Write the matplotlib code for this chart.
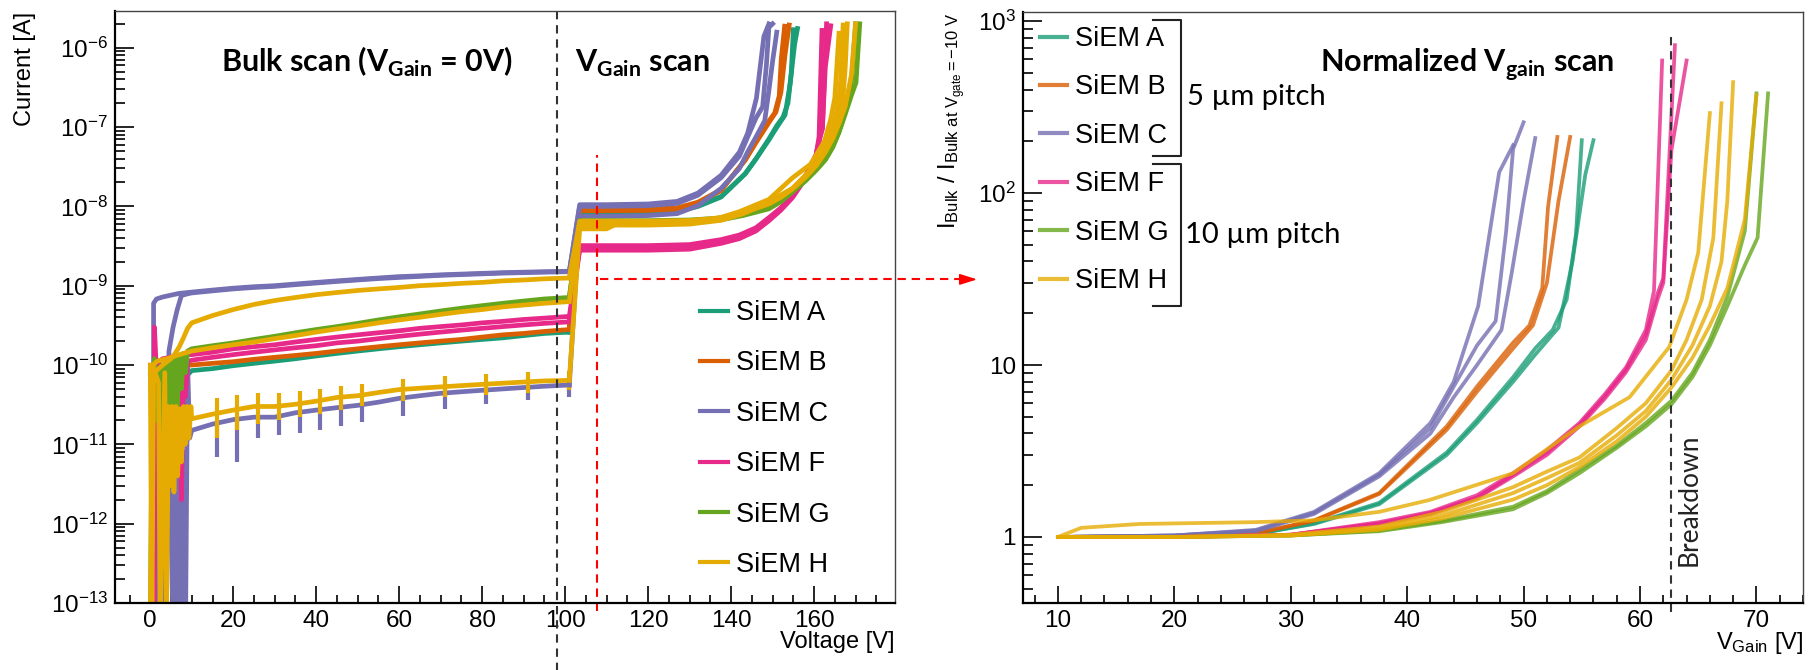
import numpy as np
import matplotlib
matplotlib.use("Agg")
import matplotlib.pyplot as plt
from matplotlib.lines import Line2D
from matplotlib.ticker import LogLocator, MultipleLocator, NullFormatter

plt.rcParams['font.family'] = ['Liberation Sans', 'DejaVu Sans']
plt.rcParams['mathtext.fontset'] = 'custom'
plt.rcParams['mathtext.rm'] = 'Liberation Sans'
plt.rcParams['mathtext.it'] = 'Liberation Sans:italic'
plt.rcParams['mathtext.bf'] = 'Lato:bold'
plt.rcParams['mathtext.sf'] = 'Lato'

devices = ["SiEM A", "SiEM B", "SiEM C", "SiEM F", "SiEM G", "SiEM H"]
colors = ["#1b9e77", "#d95f02", "#7570b3", "#e7298a", "#66a61e", "#e6ab02"]

# ---- bulk scan (V_gain = 0) ----
bulk_v = [10, 15, 20, 25, 30, 35, 40, 45, 50, 55, 60, 65, 70, 75, 80, 85, 90, 95, 101]

bulk_a = [8.5e-11, 9.0e-11, 9.8e-11, 1.05e-10, 1.12e-10, 1.2e-10, 1.3e-10, 1.4e-10, 1.5e-10, 1.6e-10,
          1.7e-10, 1.8e-10, 1.9e-10, 2.0e-10, 2.1e-10, 2.2e-10, 2.35e-10, 2.5e-10, 2.6e-10]
bulk_b = [1.0e-10, 1.05e-10, 1.1e-10, 1.18e-10, 1.25e-10, 1.32e-10, 1.4e-10, 1.5e-10, 1.6e-10, 1.7e-10,
          1.8e-10, 1.9e-10, 2.0e-10, 2.1e-10, 2.25e-10, 2.4e-10, 2.5e-10, 2.65e-10, 2.8e-10]
bulk_c_hi = [8.3e-10, 8.8e-10, 9.3e-10, 9.7e-10, 1.0e-9, 1.05e-9, 1.1e-9, 1.15e-9, 1.2e-9, 1.25e-9,
             1.3e-9, 1.33e-9, 1.37e-9, 1.4e-9, 1.43e-9, 1.46e-9, 1.48e-9, 1.5e-9, 1.52e-9]
bulk_c_hi2 = [8.1e-10, 8.6e-10, 9.1e-10, 9.5e-10, 9.8e-10, 1.03e-9, 1.08e-9, 1.13e-9, 1.18e-9, 1.23e-9,
              1.27e-9, 1.31e-9, 1.35e-9, 1.38e-9, 1.41e-9, 1.44e-9, 1.46e-9, 1.48e-9, 1.5e-9]
bulk_c_lo = [1.5e-11, 1.8e-11, 2.05e-11, 2.2e-11, 2.2e-11, 2.5e-11, 2.7e-11, 2.9e-11, 3.1e-11, 3.4e-11,
             3.8e-11, 4.1e-11, 4.4e-11, 4.6e-11, 4.8e-11, 5.0e-11, 5.2e-11, 5.4e-11, 5.6e-11]
bulk_f1 = [1.15e-10, 1.25e-10, 1.35e-10, 1.45e-10, 1.55e-10, 1.65e-10, 1.75e-10, 1.9e-10, 2.0e-10, 2.15e-10,
           2.3e-10, 2.45e-10, 2.6e-10, 2.75e-10, 2.9e-10, 3.05e-10, 3.2e-10, 3.35e-10, 3.5e-10]
bulk_f2 = [1.35e-10, 1.45e-10, 1.6e-10, 1.7e-10, 1.8e-10, 1.95e-10, 2.1e-10, 2.25e-10, 2.4e-10, 2.55e-10,
           2.7e-10, 2.9e-10, 3.05e-10, 3.2e-10, 3.4e-10, 3.55e-10, 3.75e-10, 3.9e-10, 4.1e-10]
bulk_g = [1.6e-10, 1.75e-10, 1.9e-10, 2.1e-10, 2.3e-10, 2.55e-10, 2.8e-10, 3.05e-10, 3.35e-10, 3.7e-10,
          4.05e-10, 4.4e-10, 4.8e-10, 5.2e-10, 5.6e-10, 6.0e-10, 6.4e-10, 6.8e-10, 7.1e-10]
bulk_h_hi = [3.4e-10, 4.2e-10, 5.0e-10, 5.8e-10, 6.5e-10, 7.1e-10, 7.7e-10, 8.2e-10, 8.7e-10, 9.1e-10,
             9.5e-10, 1.0e-9, 1.03e-9, 1.07e-9, 1.1e-9, 1.15e-9, 1.18e-9, 1.22e-9, 1.25e-9]
bulk_h_mid = [1.5e-10, 1.65e-10, 1.8e-10, 1.95e-10, 2.15e-10, 2.35e-10, 2.6e-10, 2.85e-10, 3.1e-10, 3.4e-10,
              3.7e-10, 4.0e-10, 4.35e-10, 4.7e-10, 5.0e-10, 5.4e-10, 5.7e-10, 6.0e-10, 6.3e-10]
bulk_h_lo = [2.1e-11, 2.4e-11, 2.7e-11, 3.0e-11, 3.0e-11, 3.2e-11, 3.5e-11, 3.9e-11, 4.1e-11, 4.5e-11,
             4.9e-11, 5.1e-11, 5.3e-11, 5.5e-11, 5.7e-11, 5.9e-11, 6.1e-11, 6.3e-11, 6.4e-11]

# noisy start of each bulk curve (0-10 V), values below 1e-13 fall off the plot
low_v_a = [0.5, 1, 1.5, 2, 2.5, 3, 3.5, 4, 4.5, 5, 6, 7, 8, 9]
low_i_a = [5e-14, 4e-11, 9e-11, 3e-11, 1e-10, 4e-11, 9e-11, 3.5e-11, 8e-11, 5e-11, 7e-11, 6e-11, 8e-11, 7.5e-11]
low_v_b = [0.3, 0.6, 1, 2, 3, 5, 7, 9]
low_i_b = [5e-14, 9e-11, 6e-11, 8e-11, 7e-11, 9e-11, 9.5e-11, 1e-10]
low_v_c_hi = [0.8, 0.8, 1.5, 3, 5, 7]
low_i_c_hi = [5e-14, 6e-10, 6.8e-10, 7.2e-10, 7.6e-10, 8e-10]
low_v_c_hi2 = [3.5, 4.5, 5.5, 6.5, 7.5, 9]
low_i_c_hi2 = [5e-14, 1.5e-10, 3e-10, 5e-10, 7.5e-10, 7.9e-10]
low_v_c_lo = [0.5, 1, 1.5, 2.5, 3.5, 4.5, 5.5, 6, 6.5, 7, 7.5, 8, 8.5, 9, 9.5]
low_i_c_lo = [5e-14, 3e-11, 5e-14, 2e-11, 5e-14, 1.5e-11, 5e-14, 1e-11, 5e-14, 1.2e-11, 5e-14, 8e-12, 5e-14,
              1e-10, 1.2e-11]
low_v_f1 = [0.5, 1, 1, 1.5, 2, 3, 4, 5, 6, 7, 7.5, 8, 8.5, 9]
low_i_f1 = [5e-14, 5e-14, 3e-10, 8e-11, 1.2e-11, 9e-11, 6e-11, 1e-10, 8e-11, 1e-10, 2e-12, 1.1e-10, 4e-11, 1.1e-10]
low_v_f2 = [0.3, 1.2, 2, 3, 5, 7, 9]
low_i_f2 = [5e-14, 1e-10, 1.1e-10, 1.2e-10, 1.25e-10, 1.3e-10, 1.35e-10]
low_v_g = [0, 0.5, 1, 1.5, 2, 2.5, 3, 3.5, 4, 4.5, 5, 5.5, 6, 6.5, 7, 7.5, 8, 8.5, 9, 9.5]
low_i_g = [5e-14, 4e-11, 1.2e-10, 2e-11, 9e-11, 1.5e-11, 1e-10, 2.2e-11, 1.1e-10, 2e-11, 1.2e-10, 2.5e-11,
           1.3e-10, 3e-11, 1.3e-10, 5e-11, 1.4e-10, 8e-11, 1.5e-10, 1.55e-10]
low_v_h_hi = [0, 0.5, 1, 2, 3, 4, 5, 6, 7, 8, 9]
low_i_h_hi = [5e-14, 1e-10, 8e-11, 9e-11, 1.0e-10, 1.1e-10, 1.2e-10, 1.4e-10, 1.7e-10, 2.2e-10, 2.9e-10]
low_v_h_mid = [0.2, 0.7, 1.5, 2.5, 4, 6, 8]
low_i_h_mid = [5e-14, 1e-10, 1.1e-10, 1.15e-10, 1.2e-10, 1.3e-10, 1.4e-10]
low_v_h_lo = [0, 0.4, 0.8, 2, 2.4, 3.5, 3.9, 4.4, 4.8, 5.3, 5.7, 6.2, 6.6, 7.1, 7.5, 8, 8.4, 8.9, 9.3, 9.8]
low_i_h_lo = [1e-10, 5e-14, 9e-11, 6e-11, 5e-14, 8e-11, 5e-14, 3e-11, 3e-12, 3e-11, 2.5e-12, 3e-11, 4e-12,
              2.8e-11, 6e-12, 3e-11, 1e-11, 3e-11, 1.2e-11, 3e-11]

# read-out glitches on the two lowest curves
spike_v = [16, 21, 26, 31, 36, 41, 46, 51, 61, 71, 81, 91, 101]
h_lo_spike_lo = [1.2e-11, 1.5e-11, 1.8e-11, 2.0e-11, 2.2e-11, 2.4e-11, 2.7e-11, 3.0e-11, 3.5e-11, 3.9e-11,
                 4.2e-11, 4.5e-11, 4.8e-11]
h_lo_spike_hi = [3.8e-11, 4.2e-11, 4.4e-11, 4.4e-11, 4.7e-11, 5.0e-11, 5.4e-11, 5.8e-11, 6.6e-11, 7.2e-11,
                 7.7e-11, 8.2e-11, 8.4e-11]
c_lo_spike_lo = [7e-12, 6e-12, 1.2e-11, 1.3e-11, 1.4e-11, 1.5e-11, 1.7e-11, 1.9e-11, 2.3e-11, 2.8e-11,
                 3.2e-11, 3.6e-11, 4.0e-11]
c_lo_spike_hi = [1.9e-11, 2.2e-11, 2.3e-11, 2.3e-11, 2.6e-11, 2.8e-11, 3.0e-11, 3.2e-11, 3.9e-11, 4.5e-11,
                 4.9e-11, 5.3e-11, 5.7e-11]

# ---- V_gain scan, normalised to the bulk current at V_gain = 10 V ----
a1_v = [10, 20, 27, 32, 37.6, 43.4, 46, 49.1, 51, 52.5, 53.7, 54.5, 55]
a1_r = [1, 1.01, 1.04, 1.2, 1.58, 3.1, 4.8, 8.5, 12.5, 16, 24, 58, 203]
a2_v = [10, 20, 27, 32, 37.6, 43.4, 46, 49.1, 51, 53, 54.2, 55.3, 56]
a2_r = [1, 1.01, 1.04, 1.19, 1.55, 3.0, 4.6, 8, 11.5, 16.5, 40, 128, 203]
b1_v = [10, 20, 27, 32, 37.6, 43.4, 46, 49.1, 50.5, 51.6, 52.1, 52.9]
b1_r = [1, 1.01, 1.05, 1.25, 1.8, 4.4, 7.5, 13.5, 17, 28, 83, 212]
b2_v = [10, 20, 27, 32, 37.6, 43.4, 46, 49.1, 50.8, 52, 53, 54]
b2_r = [1, 1.01, 1.05, 1.24, 1.78, 4.2, 7, 12.5, 17, 30, 90, 212]
c1_v = [10, 20, 27, 32, 37.6, 42, 44, 46.1, 47.9, 49.1]
c1_r = [1, 1.02, 1.1, 1.4, 2.35, 4.6, 8, 22, 132, 190]
c2_v = [10, 20, 27, 32, 37.6, 42, 44, 46, 47.6, 48.5, 49.1, 50.0]
c2_r = [1, 1.02, 1.09, 1.38, 2.3, 4.3, 7.5, 13, 18, 60, 180, 258]
c3_v = [10, 20, 27, 32, 37.6, 42, 44, 46, 48.1, 49, 50, 51]
c3_r = [1, 1.02, 1.08, 1.36, 2.25, 4.0, 6.5, 10, 16, 35, 90, 209]
f1_v = [10, 20, 30, 37.6, 42, 46, 49.1, 52, 54.8, 57, 58.8, 60.5, 61.2, 61.9]
f1_r = [1, 1.0, 1.03, 1.22, 1.4, 1.75, 2.35, 3.2, 4.6, 6.8, 9.7, 16, 27, 590]
f2_v = [10, 20, 30, 37.6, 42, 46, 49.1, 52, 54.8, 57, 58.8, 60.5, 61.5, 62, 63]
f2_r = [1, 1.0, 1.03, 1.2, 1.38, 1.7, 2.3, 3.1, 4.5, 6.6, 9.4, 15, 26, 32, 725]
f3_v = [10, 20, 30, 37.6, 42, 46, 49.1, 52, 54.8, 57, 58.8, 60.5, 61.5, 62, 62.7, 64]
f3_r = [1, 1.0, 1.03, 1.19, 1.36, 1.68, 2.25, 3.0, 4.4, 6.4, 9.1, 14, 24, 30, 178, 590]
g1_v = [10, 20, 30, 37.6, 43, 49.1, 52, 54.8, 58, 60.5, 62.7, 64.5, 66, 67.5, 69, 70]
g1_r = [1, 1, 1.02, 1.09, 1.24, 1.5, 1.85, 2.45, 3.4, 4.6, 6.2, 9, 14, 25, 60, 380]
g2_v = [10, 20, 30, 37.6, 43, 49.1, 52, 54.8, 58, 60.5, 62.7, 64.5, 66, 67.5, 69, 70.1, 71]
g2_r = [1, 1, 1.02, 1.08, 1.22, 1.45, 1.8, 2.35, 3.3, 4.4, 5.9, 8.5, 13, 22, 38, 55, 380]
h1_v = [10, 12, 17, 27, 32, 37.6, 41.9, 49.1, 54.8, 59.1, 62.5, 64, 65, 66]
h1_r = [1, 1.13, 1.19, 1.22, 1.25, 1.4, 1.64, 2.35, 4.4, 6.5, 12.7, 24, 45, 292]
h2_v = [10, 20, 30, 37.6, 43, 49.1, 52, 54.8, 58, 60.5, 62.7, 64, 65.3, 66.3, 67]
h2_r = [1, 1, 1.03, 1.15, 1.4, 1.95, 2.4, 2.9, 4.3, 6, 9.3, 14, 24, 55, 333]
h3_v = [10, 20, 30, 37.6, 43, 49.1, 52, 54.8, 58, 60.5, 62.7, 64.5, 66, 67, 67.5, 68]
h3_r = [1, 1, 1.02, 1.12, 1.33, 1.8, 2.2, 2.7, 3.9, 5.4, 8.2, 13, 22, 40, 90, 442]
h4_v = [10, 20, 30, 37.6, 43, 49.1, 52, 54.8, 58, 60.5, 62.7, 64.5, 66, 67.5, 69, 70]
h4_r = [1, 1, 1.02, 1.1, 1.28, 1.65, 2.0, 2.55, 3.6, 5, 7.4, 11, 17, 28, 70, 371]

# bulk current reached right after the V_gain step [A]
ref_a = [8.3e-9, 8.6e-9]
ref_b = [8.8e-9, 9.1e-9]
ref_c = [1.05e-8, 1.0e-8, 7.5e-9]
ref_f = [2.8e-9, 3.0e-9, 3.2e-9]
ref_g = [6.2e-9, 6.6e-9]
ref_h = [5.2e-9, 5.8e-9, 6.2e-9, 6.5e-9]

bulk_voltage = 100      # V_gain scan starts on top of 100 V bulk bias
step_v = [101, 103.5]
compliance = 2e-6
breakdown_v = 62.7

bulk_curves = [
    (colors[0], low_v_a, low_i_a, bulk_a),
    (colors[1], low_v_b, low_i_b, bulk_b),
    (colors[2], low_v_c_hi, low_i_c_hi, bulk_c_hi),
    (colors[2], low_v_c_hi2, low_i_c_hi2, bulk_c_hi2),
    (colors[2], low_v_c_lo, low_i_c_lo, bulk_c_lo),
    (colors[3], low_v_f1, low_i_f1, bulk_f1),
    (colors[3], low_v_f2, low_i_f2, bulk_f2),
    (colors[4], low_v_g, low_i_g, bulk_g),
    (colors[5], low_v_h_hi, low_i_h_hi, bulk_h_hi),
    (colors[5], low_v_h_mid, low_i_h_mid, bulk_h_mid),
    (colors[5], low_v_h_lo, low_i_h_lo, bulk_h_lo),
]

# (colour, bulk curve it starts from, reference current, V_gain, ratio)
gain_curves = [
    (colors[0], bulk_a, ref_a[0], a1_v, a1_r),
    (colors[0], bulk_a, ref_a[1], a2_v, a2_r),
    (colors[1], bulk_b, ref_b[0], b1_v, b1_r),
    (colors[1], bulk_b, ref_b[1], b2_v, b2_r),
    (colors[2], bulk_c_hi, ref_c[0], c1_v, c1_r),
    (colors[2], bulk_c_hi2, ref_c[1], c2_v, c2_r),
    (colors[2], bulk_c_lo, ref_c[2], c3_v, c3_r),
    (colors[3], bulk_f1, ref_f[0], f1_v, f1_r),
    (colors[3], bulk_f2, ref_f[1], f2_v, f2_r),
    (colors[3], bulk_f1, ref_f[2], f3_v, f3_r),
    (colors[4], bulk_g, ref_g[0], g1_v, g1_r),
    (colors[4], bulk_g, ref_g[1], g2_v, g2_r),
    (colors[5], bulk_h_lo, ref_h[0], h1_v, h1_r),
    (colors[5], bulk_h_hi, ref_h[1], h2_v, h2_r),
    (colors[5], bulk_h_mid, ref_h[2], h3_v, h3_r),
    (colors[5], bulk_h_hi, ref_h[3], h4_v, h4_r),
]

W, H = 1809, 670
fig = plt.figure(figsize=(W / 100, H / 100), dpi=100)


def fx(x):
    return x / W


def fy(y):
    return 1 - y / H


ax1 = fig.add_axes([fx(115), fy(603), fx(895 - 115), (603 - 11) / H])
ax2 = fig.add_axes([fx(1023), fy(603), fx(1803 - 1023), (603 - 12) / H])

# ---------- left: current vs voltage ----------
for c, lv, li, bi in bulk_curves:
    ax1.plot(lv + bulk_v, li + bi, color=c, lw=3.4, solid_joinstyle='round')
ax1.vlines(spike_v, c_lo_spike_lo, c_lo_spike_hi, color=colors[2], lw=3)
ax1.vlines(spike_v, h_lo_spike_lo, h_lo_spike_hi, color=colors[5], lw=3)

for c, bi, ref, v, r in gain_curves:
    vv = step_v + [bulk_voltage + x for x in v]
    ii = [bi[-1], ref] + list(np.minimum(ref * np.array(r), compliance))
    ax1.plot(vv, ii, color=c, lw=3.4, solid_joinstyle='round')

ax1.set_yscale('log')
ax1.set_xlim(-8.5, 179.5)
ax1.set_ylim(1e-13, 2.9e-6)
ax1.set_xticks(range(0, 161, 20))
ax1.xaxis.set_minor_locator(MultipleLocator(5))
ax1.set_yticks([1e-13, 1e-12, 1e-11, 1e-10, 1e-9, 1e-8, 1e-7, 1e-6])
ax1.yaxis.set_minor_locator(LogLocator(base=10, subs=np.arange(2, 10), numticks=20))
ax1.yaxis.set_minor_formatter(NullFormatter())

# boundary between bulk and V_gain scan
ax1.plot([98, 98], [1e-14, 2.9e-6], color='#333333', ls='--', lw=1.5, dashes=(4, 2.8), clip_on=False)
# reference point used for the normalisation
ax1.plot([107.7, 107.7], [8e-14, 4.4e-8], color='red', ls='--', lw=1.5, dashes=(4, 2.8), clip_on=False)
ax1.plot([108.4, 196.5], [1.2e-9, 1.2e-9], color='red', ls='--', lw=1.5, dashes=(4, 2.8), clip_on=False)
ax1.annotate('', xy=(199.3, 1.2e-9), xytext=(195.5, 1.2e-9), annotation_clip=False,
             arrowprops=dict(arrowstyle='-|>,head_length=0.7,head_width=0.22', color='red',
                             lw=1.2, mutation_scale=15, shrinkA=0, shrinkB=0))

handles = [Line2D([], [], color=c, lw=3) for c in colors]
ax1.legend(handles, devices, loc='upper left', bbox_to_anchor=(fx(700), fy(300)),
           bbox_transform=fig.transFigure, frameon=False, fontsize=19.5, handlelength=1.05,
           handletextpad=0.28, labelspacing=0.9, borderpad=0, borderaxespad=0)

# ---------- right: normalised V_gain scan ----------
for c, bi, ref, v, r in gain_curves:
    ax2.plot(v, r, color=c, lw=2.7, alpha=0.8, solid_joinstyle='round')

ax2.set_yscale('log')
ax2.set_xlim(7.0, 74.0)
ax2.set_ylim(0.413, 1130)
ax2.set_xticks(range(10, 71, 10))
ax2.xaxis.set_minor_locator(MultipleLocator(2))
ax2.yaxis.set_minor_locator(LogLocator(base=10, subs=np.arange(2, 10), numticks=10))
ax2.yaxis.set_minor_formatter(NullFormatter())
ax2.set_yticks([1, 10, 100, 1000])
ax2.set_yticklabels(['1', '10', r'$\mathdefault{10^{2}}$', r'$\mathdefault{10^{3}}$'])

ax2.plot([breakdown_v, breakdown_v], [0.366, 850], color='#333333', ls='--', lw=1.5,
         dashes=(4, 2.8), clip_on=False)
ax2.text(64.25, 1.64, "Breakdown", rotation=90, ha='center', va='center',
         family=['Lato', 'DejaVu Sans'], fontweight='normal', color='#222222', fontsize=19)

ax2.legend([Line2D([], [], color=c, lw=3, alpha=0.8) for c in colors], devices, loc='upper left',
           bbox_to_anchor=(fx(1040), fy(26)), bbox_transform=fig.transFigure, frameon=False,
           fontsize=19.5, handlelength=1.0, handletextpad=0.3, labelspacing=0.83, borderpad=0,
           borderaxespad=0)

# pitch brackets
for top, bot in [(20, 156), (164, 306)]:
    fig.add_artist(Line2D([fx(1153), fx(1181), fx(1181), fx(1153)], [fy(top), fy(top), fy(bot), fy(bot)],
                          transform=fig.transFigure, color='#222222', lw=1.5))
fig.text(fx(1187), fy(97), "5 µm pitch", family=['Lato', 'DejaVu Sans'], fontsize=21, va='center')
fig.text(fx(1185), fy(235), "10 µm pitch", family=['Lato', 'DejaVu Sans'], fontsize=21, va='center')

# frame and ticks in the usual ROOT look
for ax in (ax1, ax2):
    for side in ('left', 'bottom'):
        ax.spines[side].set_linewidth(1.6)
    for side in ('top', 'right'):
        ax.spines[side].set_linewidth(1.0)
        ax.spines[side].set_color('#444444')
    ax.tick_params(which='both', direction='in', top=False, right=False, width=1.2,
                   labelsize=17.5, colors='black')
    ax.tick_params(axis='y', which='major', length=14, pad=5)
    ax.tick_params(axis='y', which='minor', length=7)
    ax.tick_params(axis='x', which='major', length=12, pad=5)
    ax.tick_params(axis='x', which='minor', length=6)

# titles and axis labels
title_font = dict(family=['Lato', 'DejaVu Sans'], fontweight='bold', fontsize=22, va='baseline')
fig.text(fx(221), fy(72), r"Bulk scan (V$_{\mathbf{Gain}}$ = 0V)", **title_font)
fig.text(fx(575), fy(72), r"V$_{\mathbf{Gain}}$ scan", **title_font)
fig.text(fx(1320), fy(72), r"Normalized V$_{\mathbf{gain}}$ scan", **title_font)

fig.text(fx(25), fy(12), "Current [A]", rotation=90, ha='center', va='top', fontsize=17)
fig.text(fx(895), fy(642), "Voltage [V]", ha='right', va='center', fontsize=17)
fig.text(fx(952), fy(13), r"I$_{\mathrm{Bulk}}$ / I$_{\mathrm{Bulk\ at\ V_{gate}=-10\ V}}$",
         rotation=90, ha='center', va='top', fontsize=17)
fig.text(fx(1803), fy(643), r"V$_{\mathrm{Gain}}$ [V]", ha='right', va='center', fontsize=17)

fig.savefig("out.png", dpi=100)
